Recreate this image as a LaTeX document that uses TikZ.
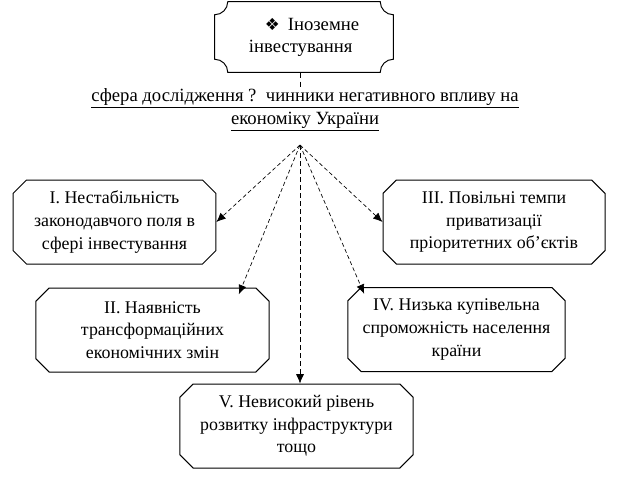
\documentclass[tikz,border=0pt]{standalone}
\usepackage{fontspec}
\setmainfont{Liberation Serif}
\newfontfamily\symfont{DejaVu Sans}
\usetikzlibrary{arrows,arrows.meta,shapes.misc,positioning,calc}

\begin{document}
\begin{tikzpicture}[x=0.75pt,y=0.75pt]
    \tikzstyle{factor}=[chamfered rectangle, chamfered rectangle xsep=5pt, chamfered rectangle ysep=5pt, draw=black, line width=0.75pt, align=center, inner sep=0pt, minimum height=63pt, font=\fontsize{13.4}{17}\selectfont]
    \tikzstyle{head}=[align=left, inner sep=0pt, minimum width=133.5pt, minimum height=52.5pt, font=\fontsize{14}{16.5}\selectfont]
    \tikzstyle{topic}=[align=center, inner sep=0pt, font=\fontsize{14}{15}\selectfont]
    \tikzstyle{connect}=[-{Latex[length=7pt,width=6pt]}, line width=0.5pt, dash pattern=on 3pt off 2pt]
    \useasboundingbox (0,0) rectangle (624,-492);
    \node[head] (top) at (304,-37) {\hspace{12pt}{\symfont\fontsize{12.5}{12}\selectfont ❖}\hspace{6pt}Іноземне\\інвестування};
    \draw[line width=0.75pt] ($(top.north west)+(13,0)$) -- ($(top.north east)+(-13,0)$)
        arc[start angle=180, end angle=270, radius=9.75pt] -- ($(top.south east)+(0,13)$)
        arc[start angle=90, end angle=180, radius=9.75pt] -- ($(top.south west)+(13,0)$)
        arc[start angle=0, end angle=90, radius=9.75pt] -- ($(top.north west)+(0,-13)$)
        arc[start angle=270, end angle=360, radius=9.75pt];
    \node[topic] (q) at (305,-110) {\underline{сфера дослідження ?\ \ чинники негативного впливу на}\\[2pt]\underline{економіку України}};
    \coordinate (fan) at (300,-145);
    \node[factor, minimum width=152pt] (b1) at (114.5,-222) {І. Нестабільність\\законодавчого поля в\\сфері інвестування};
    \node[factor, minimum width=175pt] (b2) at (152.5,-330) {ІІ. Наявність\\трансформаційних\\економічних змін};
    \node[factor, minimum width=166.5pt] (b3) at (494,-222) {ІІІ. Повільні темпи\\приватизації\\пріоритетних об’єктів};
    \node[factor, minimum width=163pt] (b4) at (456.5,-329.5) {IV. Низька купівельна\\спроможність населення\\країни};
    \node[factor, minimum width=175pt] (b5) at (296.5,-426) {V. Невисокий рівень\\розвитку інфраструктури\\тощо};
    \draw[line width=0.75pt, dash pattern=on 4pt off 3pt] (fan |- top.south) -- (fan |- q.north);
    \draw[connect] (fan) -- (b1.east);
    \draw[connect] (fan) -- ([xshift=-18pt]b2.north east);
    \draw[connect] (fan) -- (b3.west);
    \draw[connect] (fan) -- ([xshift=7.5pt]b4.north west);
    \draw[connect, dash pattern=on 4pt off 2pt] (fan) -- (fan |- b5.north);
\end{tikzpicture}
\end{document}
